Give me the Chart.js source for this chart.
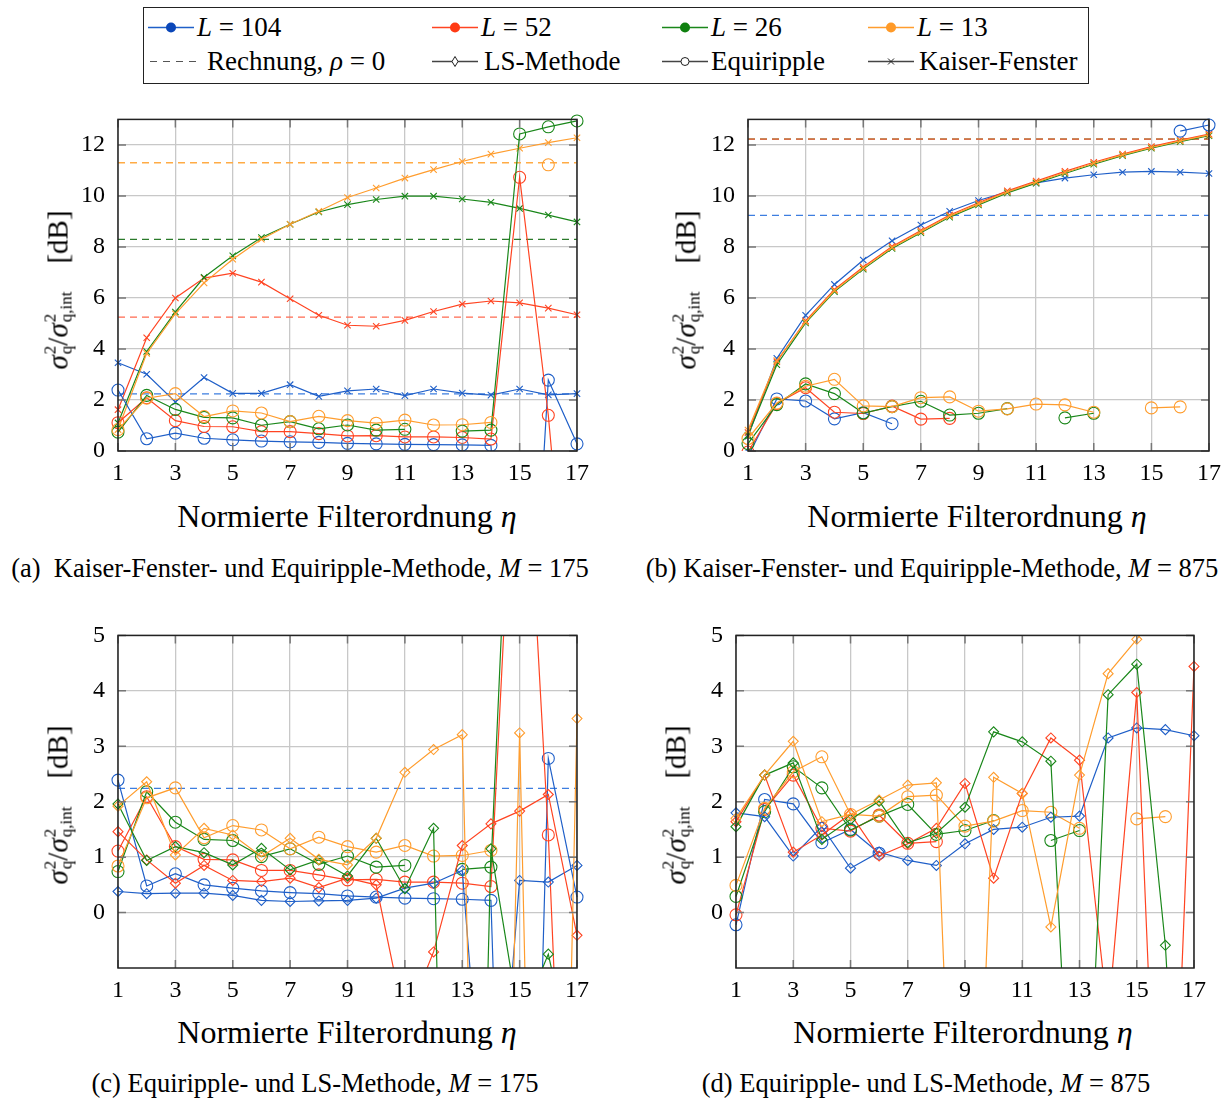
<!DOCTYPE html>
<html>
<head>
<meta charset="utf-8">
<script src="https://cdn.jsdelivr.net/npm/chart.js@4.4.1/dist/chart.umd.min.js"></script>
<style>
body { margin: 0; background: #fff; }
#fig { position: relative; width: 1230px; height: 1100px; font-family: "Liberation Serif", "Times New Roman", serif; color: #000; }
#fig canvas { position: absolute; }
.leg { position: absolute; left: 143px; top: 7px; width: 946px; height: 77px; border: 1.3px solid #222; box-sizing: border-box; }
.li { position: absolute; display: flex; align-items: center; font-size: 27px; white-space: nowrap; transform: translateY(-50%); }
.li svg { margin-right: 3px; }
.xlab { position: absolute; font-size: 32px; transform: translate(-50%, -50%); white-space: nowrap; }
.ylab { position: absolute; font-size: 29px; transform: translate(-50%, -50%) rotate(-90deg); white-space: nowrap; display: flex; align-items: center; }
.ss { display: inline-flex; flex-direction: column; font-size: 17px; line-height: 16px; margin-left: 1px; }
.cap { position: absolute; font-size: 26.5px; transform: translate(-50%, -50%); white-space: nowrap; }
</style>
</head>
<body>
<div id="fig">
  <div class="leg"></div>
  <div class="li" style="left:148px;top:27px"><svg width="46" height="20"><line x1="0" y1="10" x2="46" y2="10" stroke="#1f5fc8" stroke-width="1.3"/><circle cx="23" cy="10" r="5" fill="#0a46b8"/></svg><span><i>L</i> = 104</span></div>
  <div class="li" style="left:432px;top:27px"><svg width="46" height="20"><line x1="0" y1="10" x2="46" y2="10" stroke="#ff4422" stroke-width="1.3"/><circle cx="23" cy="10" r="5" fill="#ff3a14"/></svg><span><i>L</i> = 52</span></div>
  <div class="li" style="left:662px;top:27px"><svg width="46" height="20"><line x1="0" y1="10" x2="46" y2="10" stroke="#1a871a" stroke-width="1.3"/><circle cx="23" cy="10" r="5" fill="#0f800f"/></svg><span><i>L</i> = 26</span></div>
  <div class="li" style="left:868px;top:27px"><svg width="46" height="20"><line x1="0" y1="10" x2="46" y2="10" stroke="#ff9d2e" stroke-width="1.3"/><circle cx="23" cy="10" r="5" fill="#ff9a28"/></svg><span><i>L</i> = 13</span></div>
  <div class="li" style="left:150px;top:61px"><svg width="48" height="20"><line x1="0" y1="10" x2="48" y2="10" stroke="#555" stroke-width="1.2" stroke-dasharray="7,6"/></svg><span style="margin-left:6px">Rechnung, <i>ρ</i> = 0</span></div>
  <div class="li" style="left:432px;top:61px"><svg width="46" height="20"><line x1="0" y1="10" x2="46" y2="10" stroke="#444" stroke-width="1.3"/><path d="M23 5 L26 10 L23 15 L20 10 Z" fill="#fff" stroke="#222" stroke-width="1"/></svg><span style="margin-left:3px">LS-Methode</span></div>
  <div class="li" style="left:662px;top:61px"><svg width="46" height="20"><line x1="0" y1="10" x2="46" y2="10" stroke="#444" stroke-width="1.3"/><circle cx="23" cy="10" r="4" fill="#fff" stroke="#222" stroke-width="1"/></svg><span>Equiripple</span></div>
  <div class="li" style="left:868px;top:61px"><svg width="46" height="20"><line x1="0" y1="10" x2="46" y2="10" stroke="#444" stroke-width="1.3"/><path d="M20 7 L26 13 M26 7 L20 13" stroke="#222" stroke-width="1"/></svg><span style="margin-left:2px">Kaiser-Fenster</span></div>

  <canvas id="ca" width="549" height="399" style="left:48px;top:92px"></canvas>
  <canvas id="cb" width="551" height="399" style="left:678px;top:92px"></canvas>
  <canvas id="cc" width="549" height="400" style="left:48px;top:608px"></canvas>
  <canvas id="cd" width="548" height="400" style="left:666px;top:608px"></canvas>

  <div class="ylab" style="left:58px;top:290px"><i>σ</i><span class="ss"><span>2</span><span>q</span></span>/<i>σ</i><span class="ss"><span>2</span><span>q,int</span></span><span style="margin-left:28px">[dB]</span></div>
  <div class="ylab" style="left:686px;top:290px"><i>σ</i><span class="ss"><span>2</span><span>q</span></span>/<i>σ</i><span class="ss"><span>2</span><span>q,int</span></span><span style="margin-left:28px">[dB]</span></div>
  <div class="ylab" style="left:58px;top:805px"><i>σ</i><span class="ss"><span>2</span><span>q</span></span>/<i>σ</i><span class="ss"><span>2</span><span>q,int</span></span><span style="margin-left:28px">[dB]</span></div>
  <div class="ylab" style="left:676px;top:805px"><i>σ</i><span class="ss"><span>2</span><span>q</span></span>/<i>σ</i><span class="ss"><span>2</span><span>q,int</span></span><span style="margin-left:28px">[dB]</span></div>

  <div class="xlab" style="left:347px;top:516px">Normierte Filterordnung <i>η</i></div>
  <div class="xlab" style="left:977px;top:516px">Normierte Filterordnung <i>η</i></div>
  <div class="xlab" style="left:347px;top:1032px">Normierte Filterordnung <i>η</i></div>
  <div class="xlab" style="left:963px;top:1032px">Normierte Filterordnung <i>η</i></div>

  <div class="cap" style="left:300px;top:568px">(a)&nbsp; Kaiser-Fenster- und Equiripple-Methode, <i>M</i> = 175</div>
  <div class="cap" style="left:932px;top:568px">(b) Kaiser-Fenster- und Equiripple-Methode, <i>M</i> = 875</div>
  <div class="cap" style="left:315px;top:1083px">(c) Equiripple- und LS-Methode, <i>M</i> = 175</div>
  <div class="cap" style="left:926px;top:1083px">(d) Equiripple- und LS-Methode, <i>M</i> = 875</div>
</div>

<script>
// normierte Filterordnung
const eta = [1, 2, 3, 4, 5, 6, 7, 8, 9, 10, 11, 12, 13, 14, 15, 16, 17];
const xTicks = [1, 3, 5, 7, 9, 11, 13, 15, 17];
const yTicksTop = [0, 2, 4, 6, 8, 10, 12];
const yTicksBottom = [0, 1, 2, 3, 4, 5];

// order: L = 104, 52, 26, 13
const colors = ['#1f5fc8', '#ff4422', '#1a871a', '#ff9d2e'];
const dashColors = ['#3d7ee0', '#ff6a50', '#2a7a2a', '#ffab45'];

// Rechnung, rho = 0
const theory175 = [2.24, 5.25, 8.3, 11.3];
const theory875 = [9.24, 12.23, 12.23, 12.23];

// M = 175, Kaiser-Fenster
const kaiser175_104 = [3.46, 3.01, 1.92, 2.88, 2.26, 2.26, 2.6, 2.14, 2.36, 2.43, 2.17, 2.43, 2.27, 2.19, 2.43, 2.2, 2.25];
const kaiser175_52 = [1.62, 4.44, 6.0, 6.78, 6.97, 6.62, 5.97, 5.32, 4.93, 4.89, 5.12, 5.47, 5.76, 5.88, 5.81, 5.6, 5.34];
const kaiser175_26 = [1.1, 3.9, 5.45, 6.81, 7.65, 8.37, 8.89, 9.37, 9.66, 9.86, 9.99, 9.99, 9.88, 9.75, 9.51, 9.25, 8.98];
const kaiser175_13 = [0.84, 3.83, 5.38, 6.59, 7.52, 8.3, 8.89, 9.4, 9.94, 10.31, 10.7, 11.03, 11.35, 11.64, 11.87, 12.09, 12.28];

// M = 175, Equiripple
const equi175_104 = [2.39, 0.48, 0.7, 0.5, 0.44, 0.39, 0.36, 0.34, 0.3, 0.28, 0.26, 0.25, 0.24, 0.22, -16, 2.78, 0.28];
const equi175_52 = [1.11, 2.09, 1.19, 0.96, 0.95, 0.76, 0.76, 0.68, 0.59, 0.6, 0.55, 0.55, 0.53, 0.47, 10.73, 1.4, -11];
const equi175_26 = [0.74, 2.18, 1.63, 1.32, 1.3, 1.01, 1.15, 0.87, 1.02, 0.82, 0.85, null, 0.78, 0.82, 12.43, 12.71, 12.94];
const equi175_13 = [0.84, 2.07, 2.25, 1.35, 1.57, 1.49, 1.15, 1.36, 1.19, 1.09, 1.21, 1.02, 1.03, 1.12, null, 11.22, null];

// M = 175, LS-Methode
const ls175_104 = [0.38, 0.34, 0.35, 0.35, 0.31, 0.22, 0.2, 0.21, 0.22, 0.26, 0.44, 0.53, 0.76, -5.8, 0.58, 0.55, 0.85];
const ls175_52 = [1.46, 0.95, 0.53, 0.85, 0.58, 0.56, 0.62, 0.45, 0.62, 0.5, -2.0, -0.71, 1.21, 1.6, 1.83, 2.13, -0.41];
const ls175_26 = [1.96, 0.94, 1.19, 1.08, 0.86, 1.16, 0.77, 0.95, 0.66, 1.34, 0.43, 1.52, -20, 1.15, -2.0, -0.75, -3.1];
const ls175_13 = [1.92, 2.36, 1.04, 1.52, 1.4, 1.01, 1.34, 0.96, 0.86, 1.34, 2.53, 2.94, 3.21, -18, 3.24, -20, 3.5];

// M = 875, Kaiser-Fenster
const kaiser875_104 = [0.58, 3.63, 5.32, 6.53, 7.49, 8.24, 8.86, 9.4, 9.82, 10.16, 10.51, 10.7, 10.83, 10.93, 10.96, 10.93, 10.88];
const kaiser875_52 = [0.72, 3.5, 5.1, 6.33, 7.21, 8.02, 8.64, 9.25, 9.73, 10.2, 10.58, 10.96, 11.32, 11.64, 11.93, 12.19, 12.42];
const kaiser875_26 = [0.62, 3.38, 5.02, 6.25, 7.13, 7.94, 8.56, 9.17, 9.65, 10.12, 10.5, 10.88, 11.24, 11.58, 11.87, 12.13, 12.36];
const kaiser875_13 = [0.82, 3.55, 5.06, 6.29, 7.17, 7.98, 8.6, 9.21, 9.69, 10.16, 10.54, 10.92, 11.28, 11.61, 11.9, 12.16, 12.39];

// M = 875, Equiripple
const equi875_104 = [-0.22, 2.04, 1.96, 1.26, 1.5, 1.07, null, null, null, null, null, null, null, null, null, 12.54, 12.78];
const equi875_52 = [-0.04, 1.86, 2.48, 1.52, 1.47, 1.76, 1.25, 1.28, null, null, null, null, null, null, null, null, null];
const equi875_26 = [0.29, 1.82, 2.63, 2.25, 1.49, 1.74, 1.95, 1.41, 1.48, 1.66, null, 1.3, 1.48, null, null, null, null];
const equi875_13 = [0.49, 1.88, 2.54, 2.81, 1.77, 1.74, 2.09, 2.12, 1.56, 1.65, 1.84, 1.81, 1.52, null, 1.69, 1.73, null];

// M = 875, LS-Methode
const ls875_104 = [1.8, 1.73, 1.02, 1.55, 0.8, 1.09, 0.94, 0.85, 1.24, 1.5, 1.54, 1.72, 1.74, 3.15, 3.33, 3.3, 3.19];
const ls875_52 = [1.64, 2.48, 1.09, 1.4, 1.78, 1.02, 1.24, 1.52, 2.33, 0.62, 2.15, 3.15, 2.75, -1.9, 3.97, -8.5, 4.44];
const ls875_26 = [1.55, 2.48, 2.7, 1.32, 1.68, 2.01, 1.26, 1.43, 1.9, 3.26, 3.08, 2.73, -7.3, 3.93, 4.48, -0.59, -9.6];
const ls875_13 = [1.7, 2.48, 3.09, 1.64, 1.77, 2.03, 2.3, 2.34, -10.5, 2.44, 2.15, -0.26, 2.48, 4.31, 4.93, 5.6, null];


const marks = {
    kaiser: { pointStyle: 'crossRot', pointRadius: 4.5 },
    equi: { pointStyle: 'circle', pointRadius: 6 },
    ls: { pointStyle: 'rectRot', pointRadius: 5 }
};

function pts(arr) {
    return eta.map((x, i) => ({ x: x, y: arr[i] }));
}

function methodSets(groups, method) {
    return groups.map((arr, i) => ({
        data: pts(arr),
        borderColor: colors[i],
        borderWidth: 1.2,
        pointBorderColor: colors[i],
        pointBackgroundColor: 'rgba(0,0,0,0)',
        pointBorderWidth: 1.1,
        pointStyle: marks[method].pointStyle,
        pointRadius: marks[method].pointRadius,
        tension: 0
    }));
}

// dashed reference lines, red drawn on top where they overlap
const theoryOrder = [13, 10, 11, 12];
function theorySets(values) {
    return values.map((v, i) => ({
        data: [{ x: eta[0], y: v }, { x: eta[eta.length - 1], y: v }],
        borderColor: dashColors[i],
        borderWidth: 1.3,
        borderDash: [7, 5],
        pointRadius: 0,
        order: theoryOrder[i]
    }));
}

// inner tick marks and plot frame like pgfplots
const framePlugin = {
    id: 'frame',
    afterDatasetsDraw(chart) {
        const { ctx, chartArea: a, scales } = chart;
        const x = scales.x, y = scales.y;
        ctx.save();
        ctx.strokeStyle = '#777';
        ctx.lineWidth = 1.5;
        ctx.beginPath();
        x.ticks.forEach(t => {
            const px = x.getPixelForValue(t.value);
            ctx.moveTo(px, a.top); ctx.lineTo(px, a.top + 8);
            ctx.moveTo(px, a.bottom); ctx.lineTo(px, a.bottom - 8);
        });
        y.ticks.forEach(t => {
            const py = y.getPixelForValue(t.value);
            ctx.moveTo(a.left, py); ctx.lineTo(a.left + 8, py);
            ctx.moveTo(a.right, py); ctx.lineTo(a.right - 8, py);
        });
        ctx.stroke();
        ctx.strokeStyle = '#222';
        ctx.lineWidth = 1.5;
        ctx.strokeRect(a.left, a.top, a.right - a.left, a.bottom - a.top);
        ctx.restore();
    }
};

function makeChart(id, datasets, yMin, yMax, yTicks, clipTop) {
    datasets.forEach((d, i) => {
        if (d.order === undefined) d.order = -i;
        d.clip = { left: 8, right: 8, top: clipTop, bottom: 0 };
    });
    return new Chart(document.getElementById(id), {
        type: 'line',
        data: { datasets: datasets },
        options: {
            responsive: false,
            animation: false,
            events: [],
            layout: { padding: { top: 0, right: 14, left: 0, bottom: 0 } },
            scales: {
                x: {
                    type: 'linear',
                    min: 1,
                    max: 17,
                    afterBuildTicks: s => { s.ticks = xTicks.map(v => ({ value: v })); },
                    afterFit: s => { s.height = 40; },
                    border: { display: false },
                    grid: { color: '#c8c8c8', lineWidth: 1.3, drawTicks: false },
                    ticks: { color: '#000', padding: 8, maxRotation: 0, autoSkip: false, font: { family: 'Liberation Serif', size: 24 } }
                },
                y: {
                    min: yMin,
                    max: yMax,
                    afterBuildTicks: s => { s.ticks = yTicks.map(v => ({ value: v })); },
                    afterFit: s => { s.width = 70; },
                    border: { display: false },
                    grid: { color: '#c8c8c8', lineWidth: 1.3, drawTicks: false },
                    ticks: { color: '#000', padding: 13, font: { family: 'Liberation Serif', size: 24 } }
                }
            },
            plugins: {
                legend: { display: false },
                tooltip: { enabled: false }
            }
        },
        plugins: [framePlugin]
    });
}

makeChart('ca', [].concat(
    theorySets(theory175),
    methodSets([kaiser175_104, kaiser175_52, kaiser175_26, kaiser175_13], 'kaiser'),
    methodSets([equi175_104, equi175_52, equi175_26, equi175_13], 'equi')
), 0, 13, yTicksTop, 8);

makeChart('cb', [].concat(
    theorySets(theory875),
    methodSets([kaiser875_104, kaiser875_52, kaiser875_26, kaiser875_13], 'kaiser'),
    methodSets([equi875_104, equi875_52, equi875_26, equi875_13], 'equi')
), 0, 13, yTicksTop, 8);

makeChart('cc', [].concat(
    theorySets(theory175),
    methodSets([equi175_104, equi175_52, equi175_26, equi175_13], 'equi'),
    methodSets([ls175_104, ls175_52, ls175_26, ls175_13], 'ls')
), -1, 5, yTicksBottom, 0);

makeChart('cd', [].concat(
    theorySets(theory875),
    methodSets([equi875_104, equi875_52, equi875_26, equi875_13], 'equi'),
    methodSets([ls875_104, ls875_52, ls875_26, ls875_13], 'ls')
), -1, 5, yTicksBottom, 0);
</script>
</body>
</html>
